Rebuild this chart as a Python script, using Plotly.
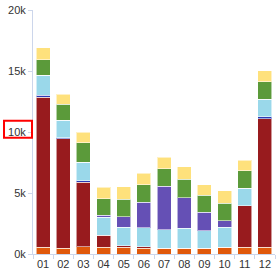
import plotly.graph_objects as go

months = ["01", "02", "03", "04", "05", "06", "07", "08", "09", "10", "11", "12"]

orange = [560, 480, 580, 560, 540, 460, 485, 485, 485, 566, 566, 566]
red = [12290, 8950, 5320, 970, 130, 130, 0, 0, 0, 0, 3393, 10528]
dark_blue = [160, 110, 100, 0, 0, 0, 0, 0, 0, 0, 0, 137]
light_blue = [1640, 1430, 1540, 1480, 1535, 1567, 1511, 1640, 1430, 1616, 1430, 1455]
purple = [0, 0, 0, 160, 865, 2069, 3555, 2481, 1503, 541, 0, 0]
green = [1290, 1290, 1570, 1350, 1430, 1454, 1422, 1511, 1406, 1454, 1455, 1430]
yellow = [950, 830, 890, 950, 1020, 946, 945, 1018, 856, 994, 856, 889]

y_ticks = [0, 5000, 10000, 15000, 20000]
y_tick_labels = ["0k", "5k", "10k", "15k", "20k"]

series = [
    ("Orange", orange, "#e0590b"),
    ("Red", red, "#981b1e"),
    ("Blue", dark_blue, "#2b3ab3"),
    ("Light blue", light_blue, "#9ad8ea"),
    ("Purple", purple, "#6550b5"),
    ("Green", green, "#5b9a3a"),
    ("Yellow", yellow, "#fee17c"),
]

fig = go.Figure()
for name, vals, col in series:
    fig.add_trace(go.Bar(
        x=months, y=vals, name=name,
        marker=dict(color=col, line=dict(color="rgba(255,255,255,0.55)", width=1)),
    ))

fig.update_layout(
    width=278, height=273,
    margin=dict(l=33, r=3, t=10, b=15),
    barmode="stack",
    bargap=0.3,
    showlegend=False,
    plot_bgcolor="white",
    paper_bgcolor="white",
    font=dict(family="Liberation Sans, Arial, sans-serif", size=11, color="#333333"),
    xaxis=dict(
        type="category",
        showline=True, linecolor="#ccd6eb", linewidth=1,
        ticks="outside", tickson="boundaries", ticklen=4, tickcolor="#ccd6eb",
        tickangle=0,
        showgrid=False, zeroline=False,
    ),
    yaxis=dict(
        range=[0, 20000],
        tickvals=y_ticks, ticktext=y_tick_labels,
        showline=True, linecolor="#ccd6eb", linewidth=1,
        ticks="outside", ticklen=4, tickcolor="#ccd6eb",
        showgrid=False, zeroline=False,
    ),
)

fig.add_shape(
    type="rect", xref="paper", yref="y",
    x0=-0.1198, x1=-0.0041, y0=9534, y1=10932,
    line=dict(color="#ff0000", width=2), fillcolor="rgba(0,0,0,0)",
)

fig.write_html(
    "out.html",
    config={"displayModeBar": False},
    post_script="document.body.style.margin='0';document.body.style.overflow='hidden';",
)
